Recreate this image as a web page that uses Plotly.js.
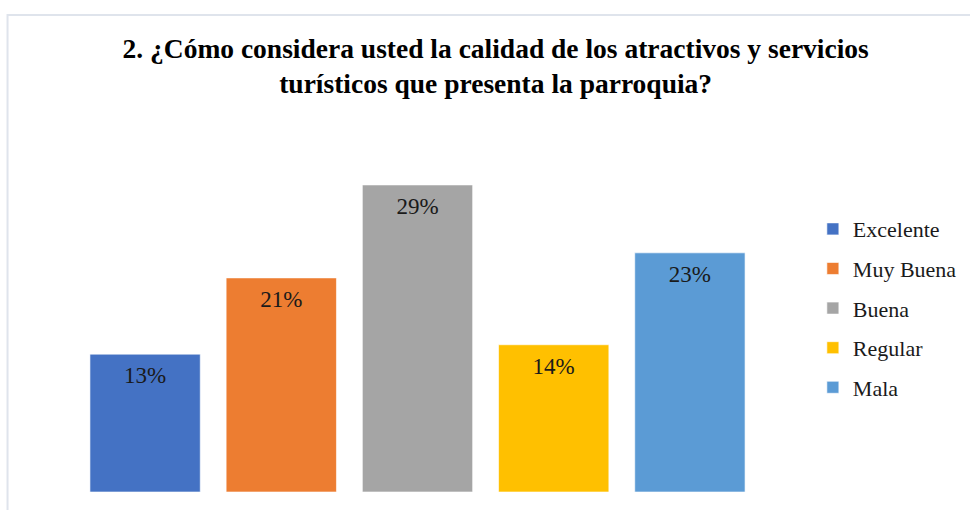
<!DOCTYPE html>
<html>
<head>
<meta charset="utf-8">
<script src="https://cdn.plot.ly/plotly-3.0.1.min.js"></script>
<style>html,body{margin:0;padding:0;background:#fff}#chart{width:970px;height:510px}</style>
</head>
<body>
<div id="chart"></div>
<script>
const categories = ["Excelente", "Muy Buena", "Buena", "Regular", "Mala"];
const values = [13.2, 20.5, 29.4, 14.1, 22.9];
const labels = ["13%", "21%", "29%", "14%", "23%"];
const colors = ["#4472c4", "#ed7d31", "#a5a5a5", "#ffc000", "#5b9bd5"];
const titleText = "2. ¿Cómo considera usted la calidad de los atractivos y servicios<br>turísticos que presenta la parroquia?";

const serif = "Liberation Serif, Times New Roman, serif";

const traces = categories.map((c, i) => ({
  type: "bar",
  name: c,
  x: [c],
  y: [values[i]],
  marker: {color: colors[i], line: {color: "rgba(255,255,255,0.6)", width: 1}},
  legendgroup: c,
  hoverinfo: "skip"
}));

traces.push({
  type: "scatter",
  mode: "markers+text",
  x: categories,
  y: values,
  text: labels,
  textposition: "bottom center",
  textfont: {family: serif, size: 23, color: "#1a1a1a"},
  marker: {size: 17, opacity: 0},
  showlegend: false,
  hoverinfo: "skip"
});

const layout = {
  width: 970,
  height: 510,
  margin: {l: 77, r: 212, t: 130, b: 18},
  paper_bgcolor: "#ffffff",
  plot_bgcolor: "#ffffff",
  barmode: "overlay",
  bargap: 0.19,
  showlegend: true,
  title: {
    text: titleText,
    font: {family: serif, size: 27.5, color: "#000000", weight: "bold"},
    xref: "container", x: 0.511, xanchor: "center",
    yref: "container", y: 0.887, yanchor: "middle"
  },
  xaxis: {
    type: "category",
    categoryorder: "array",
    categoryarray: categories,
    range: [-0.5, 4.5],
    visible: false
  },
  yaxis: {
    range: [0, 34.66],
    visible: false
  },
  legend: {
    xref: "container", x: 0.838, xanchor: "left",
    yref: "container", y: 0.592, yanchor: "top",
    font: {family: serif, size: 22, color: "#1a1a1a"},
    tracegroupgap: 8,
    bgcolor: "rgba(0,0,0,0)"
  },
  shapes: [{
    type: "rect", xref: "paper", yref: "paper",
    x0: -0.102, x1: 1.5, y0: -0.2, y1: 1.3177,
    line: {color: "#dfe4ec", width: 2},
    fillcolor: "rgba(0,0,0,0)",
    layer: "below"
  }]
};

Plotly.newPlot("chart", traces, layout, {displayModeBar: false, staticPlot: true});
</script>
</body>
</html>
